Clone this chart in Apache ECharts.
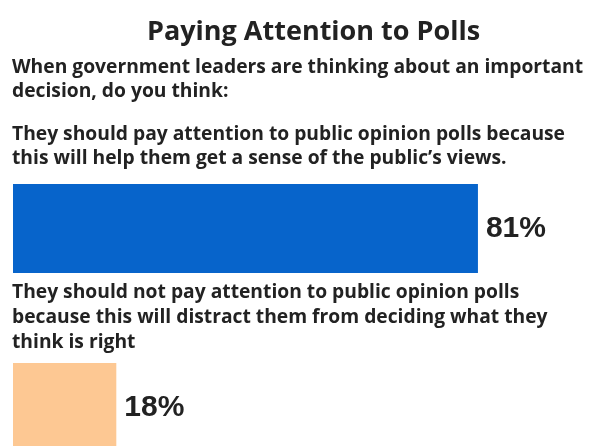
<!DOCTYPE html>
<html>
<head>
<meta charset="utf-8">
<script src="https://cdn.jsdelivr.net/npm/echarts@6/dist/echarts.min.js"></script>
<style>html,body{margin:0;padding:0;background:#fff}#c{width:605px;height:446px}</style>
</head>
<body>
<div id="c"></div>
<script>
const chartTitle = 'Paying Attention to Polls';
const questionLines = ['When government leaders are thinking about an important', 'decision, do you think:'];
const categoryLines = [
  ['They should pay attention to public opinion polls because', 'this will help them get a sense of the public\u2019s views.'],
  ['They should not pay attention to public opinion polls', 'because this will distract them from deciding what they', 'think is right']
];
const categories = ['Pay attention', 'Do not pay attention'];
const values = [81, 18];
const colors = ['#0764CB', '#FDC893'];

const chart = echarts.init(document.getElementById('c'));
const txt = { fontFamily: 'Open Sans', fontWeight: 'bold', color: '#222', fontSize: 19.25, lineHeight: 24 };
chart.setOption({
  animation: false,
  title: [
    { text: chartTitle, left: 147, top: 17, padding: 0, textStyle: { fontFamily: 'Open Sans', fontWeight: 'bold', color: '#222', fontSize: 27, lineHeight: 30 } },
    { text: questionLines.join('\n'), left: 12, top: 56, padding: 0, textStyle: txt },
    { text: categoryLines[0].join('\n'), left: 12, top: 123, padding: 0, textStyle: txt },
    { text: categoryLines[1].join('\n'), left: 12, top: 280, padding: 0, textStyle: Object.assign({}, txt, { lineHeight: 25 }) }
  ],
  grid: { left: 13, right: 18, top: 228.5, height: 179, containLabel: false },
  xAxis: { type: 'value', min: 0, max: 100, show: false },
  yAxis: { type: 'category', data: categories, inverse: true, show: false, boundaryGap: false },
  series: [{
    type: 'bar',
    barWidth: 89,
    clip: false,
    data: values.map((v, i) => ({ value: v, itemStyle: { color: colors[i] } })),
    label: {
      show: true, position: 'right', distance: 8,
      formatter: p => p.value + '%',
      fontFamily: 'Liberation Sans', fontWeight: 'bold', fontSize: 30, color: '#222'
    }
  }]
});
</script>
</body>
</html>
